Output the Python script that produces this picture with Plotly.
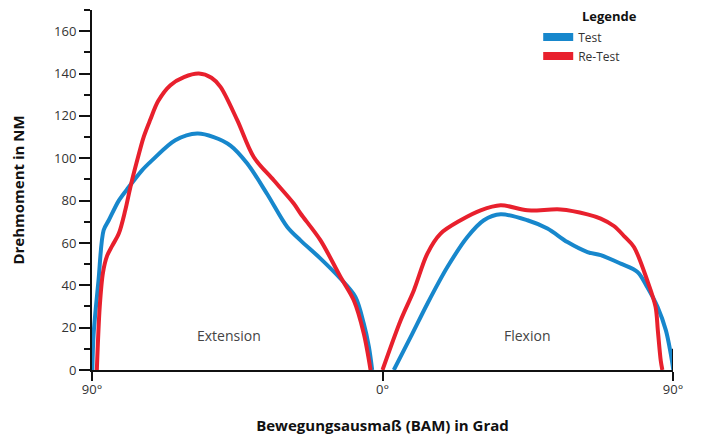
import plotly.graph_objects as go

# Test (blue) - Extension side (negative degrees = extension, displayed as 90°..0°)
test_ext_deg = [-89.9, -89.5, -88.0, -86.4, -84.8, -81.7, -78.6, -74.5, -71.4, -64.2, -57.4,
                -52.3, -47.1, -41.9, -35.7, -29.5, -25.4, -19.2, -13.0, -8.4, -5.8, -4.2, -3.2]
test_ext_val = [0, 17, 42, 66, 70.7, 80, 86.4, 94.3, 99, 108.5, 111.7,
                110, 106, 97.5, 83, 67.5, 61.2, 52.6, 43.1, 34.5, 21.9, 10.8, 0]
# Re-Test (red) - Extension side
retest_ext_deg = [-88.5, -87.6, -86.6, -85.3, -83.8, -81.7, -79.7, -78.1, -76.0, -74.0, -72.0, -69.5,
                  -65.7, -61.5, -56.9, -53.0, -50.2, -45.0, -39.9, -33.7, -27.5, -25.4, -19.2, -13.0,
                  -8.9, -5.8, -3.7]
retest_ext_val = [0, 30, 46, 54, 58.5, 64.4, 75.4, 86.4, 99, 110, 118, 127,
                  134.5, 138.3, 140, 138, 133.7, 118, 100.6, 89.6, 78.6, 73.9, 61.2, 43.9,
                  32.9, 17.2, 0]
# Test (blue) - Flexion side
test_flex_deg = [3.5, 8.7, 13.9, 20.1, 26.3, 31.4, 36.6, 44.9, 51.1, 57.3, 63.5, 67.6, 73.8,
                 79.0, 82.0, 85.2, 87.8, 89.3, 90.1]
test_flex_val = [0, 15.5, 31.3, 48.6, 62.8, 70.7, 73.5, 70.7, 66.8, 60.4, 55.7, 54.2, 50.2,
                 46.3, 39.2, 29.8, 18.7, 7.7, 0]
# Re-Test (red) - Flexion side
retest_flex_deg = [0.0, 5.6, 9.7, 13.9, 18.0, 24.2, 30.4, 36.6, 44.9, 55.2, 63.5, 67.6, 71.7,
                   75.0, 77.9, 82.0, 84.6, 85.3, 86.2, 86.7]
retest_flex_val = [0, 23.4, 37.6, 55, 64.4, 70.7, 75.4, 77.8, 75.4, 75.8, 73.5, 71.5, 68,
                   63, 58.1, 42.4, 29.8, 18.7, 4.5, 0]

x_tickvals = [-90, 0, 90]
x_ticktext = ["90°", "0°", "90°"]
y_tickvals = [0, 20, 40, 60, 80, 100, 120, 140, 160]

BLUE = "#1787cc"
RED = "#e8202d"
FONT = "Open Sans"
LINE = dict(width=4, shape="spline", smoothing=0.9)

fig = go.Figure()
fig.add_trace(go.Scatter(x=test_ext_deg, y=test_ext_val, mode="lines", line=dict(color=BLUE, **LINE),
                         name="Test", legendgroup="t", showlegend=False))
fig.add_trace(go.Scatter(x=test_flex_deg, y=test_flex_val, mode="lines", line=dict(color=BLUE, **LINE),
                         name="Test", legendgroup="t", showlegend=False))
fig.add_trace(go.Scatter(x=retest_ext_deg, y=retest_ext_val, mode="lines", line=dict(color=RED, **LINE),
                         name="Re-Test", legendgroup="r", showlegend=False))
fig.add_trace(go.Scatter(x=retest_flex_deg, y=retest_flex_val, mode="lines", line=dict(color=RED, **LINE),
                         name="Re-Test", legendgroup="r", showlegend=False))
# legend entries (thick swatches)
fig.add_trace(go.Scatter(x=[None], y=[None], mode="lines", line=dict(color=BLUE, width=8), name="Test", legendgroup="t"))
fig.add_trace(go.Scatter(x=[None], y=[None], mode="lines", line=dict(color=RED, width=8), name="Re-Test", legendgroup="r"))

fig.update_layout(
    width=704, height=444,
    margin=dict(l=84, r=39, t=2, b=82),
    plot_bgcolor="white", paper_bgcolor="white",
    font=dict(family=FONT, size=13, color="#222"),
    showlegend=True,
    legend=dict(x=0.768, y=0.965, xanchor="left", yanchor="top", font=dict(size=12, color="#333"),
                bgcolor="rgba(0,0,0,0)", tracegroupgap=0, itemwidth=30),
    xaxis=dict(range=[-90, 90], tickvals=x_tickvals, ticktext=x_ticktext, showgrid=False, zeroline=False,
               automargin=False,
               showline=True, linecolor="#111", linewidth=2, ticks="outside", ticklen=9, tickwidth=2, tickcolor="#111",
               tickfont=dict(size=13, color="#333"), ticklabelstandoff=-3,
               title=dict(text="<b>Bewegungsausmaß (BAM) in Grad</b>", font=dict(size=15, color="#111"), standoff=24)),
    yaxis=dict(range=[0, 170], tickvals=y_tickvals, showgrid=False, zeroline=False,
               automargin=False,
               showline=True, linecolor="#111", linewidth=2, ticks="outside", ticklen=11, tickwidth=2, tickcolor="#111",
               tickfont=dict(size=13, color="#333"),
               minor=dict(dtick=10, tick0=0, ticks="outside", ticklen=6, tickwidth=1.5, tickcolor="#111"),
               title=dict(text="<b>Drehmoment in NM</b>", font=dict(size=15, color="#111"), standoff=26)),
)

fig.add_annotation(x=-47.7, y=16.3, text="Extension", showarrow=False, font=dict(size=14, color="#444"))
fig.add_annotation(x=45, y=16.3, text="Flexion", showarrow=False, font=dict(size=14, color="#444"))
fig.add_annotation(xref="paper", yref="paper", x=0.8405, y=0.983, xanchor="left", yanchor="middle",
                   text="<b>Legende</b>", showarrow=False, font=dict(size=13, color="#111"))
# small vertical mark at the right end of the x axis
fig.add_shape(type="line", xref="x", yref="y", x0=90, x1=90, y0=0, y1=10, line=dict(color="#111", width=2))

fig.write_html("out.html")
